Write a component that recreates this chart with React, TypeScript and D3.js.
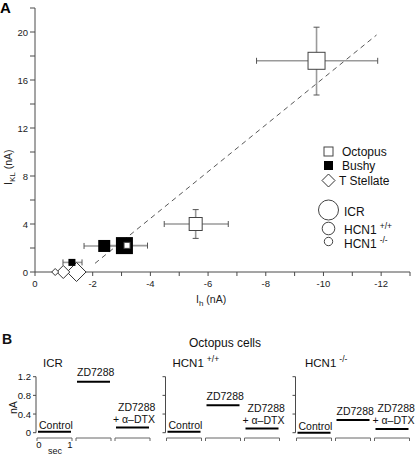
import React from 'react';
import * as d3 from 'd3';

// ---------- Panel A data ----------
const genotypes = ['ICR', 'HCN1 +/+', 'HCN1 -/-'];
const octopusX = [-9.76, -5.57, -3.19];
const octopusY = [17.6, 4.0, 2.22];
const octopusXLo = [-7.68, -4.48, NaN];
const octopusXHi = [-11.88, -6.7, NaN];
const octopusYLo = [14.75, 2.8, NaN];
const octopusYHi = [20.4, 5.2, NaN];

const bushyX = [-3.1, -2.4, -1.28];
const bushyY = [2.2, 2.17, 0.8];
const bushyXLo = [-2.3, -1.7, -0.97];
const bushyXHi = [-3.9, -3.1, -1.63];

const stellateX = [-1.44, -0.98, -0.7];
const stellateY = [0, 0, 0];

const fitX = [-2.08, -11.84];
const fitY = [0.72, 19.75];

const xTicksA = d3.range(0, -13.5, -1);
const yTicksA = d3.range(0, 22.5, 2);

// ---------- Panel B data ----------
const panelTitles = ['ICR', 'HCN1', 'HCN1'];
const panelSups = ['', '+/+', '-/-'];
const conditions = ['Control', 'ZD7288', 'ZD7288 + α–DTX'];
const icrValues = [0.02, 1.09, 0.11];
const wtValues = [0.02, 0.59, 0.09];
const koValues = [0.0, 0.27, 0.08];
const yTicksB = [0, 0.4, 0.8, 1.2];

const FONT = 'Liberation Sans, Arial, Helvetica, sans-serif';
const AX = '#4a4a4a';
const EB = '#9a9a9a';

const sizeSquare = [17, 13, 6];
const sizeBushy = [17, 12, 7];
const sizeDiamond = [9.5, 6.5, 3.5];

function PanelA() {
  const x = d3.scaleLinear().domain([0, -13]).range([35, 410]);
  const y = d3.scaleLinear().domain([0, 22]).range([272, 8]);
  const line = d3.line<number>().x((_, i) => x(fitX[i])).y((_, i) => y(fitY[i]));

  const cap = 3;
  const hBar = (x0: number, x1: number, yy: number, key: string) => (
    <g key={key}>
      <line x1={x(x0)} x2={x(x1)} y1={y(yy)} y2={y(yy)} stroke={EB} strokeWidth={1.6} />
      <line x1={x(x0)} x2={x(x0)} y1={y(yy) - cap} y2={y(yy) + cap} stroke="#555" strokeWidth={1} />
      <line x1={x(x1)} x2={x(x1)} y1={y(yy) - cap} y2={y(yy) + cap} stroke="#555" strokeWidth={1} />
    </g>
  );
  const vBar = (xx: number, y0: number, y1: number, key: string) => (
    <g key={key}>
      <line x1={x(xx)} x2={x(xx)} y1={y(y0)} y2={y(y1)} stroke={EB} strokeWidth={1.6} />
      <line x1={x(xx) - cap} x2={x(xx) + cap} y1={y(y0)} y2={y(y0)} stroke="#555" strokeWidth={1} />
      <line x1={x(xx) - cap} x2={x(xx) + cap} y1={y(y1)} y2={y(y1)} stroke="#555" strokeWidth={1} />
    </g>
  );
  const diamond = (cx: number, cy: number, h: number) =>
    `M${cx},${cy - h}L${cx + h},${cy}L${cx},${cy + h}L${cx - h},${cy}Z`;

  return (
    <g fontFamily={FONT}>
      <text x={0} y={13} fontSize={15} fontWeight="bold">A</text>
      {/* axes */}
      <line x1={x(0)} x2={x(-13)} y1={y(0)} y2={y(0)} stroke={AX} strokeWidth={1} />
      <line x1={x(0)} x2={x(0)} y1={y(0)} y2={y(22)} stroke={AX} strokeWidth={1} />
      {xTicksA.map((t) => (
        <g key={'xt' + t}>
          <line x1={x(t)} x2={x(t)} y1={y(0)} y2={y(0) + 4} stroke={AX} />
          {Math.round(t) % 2 === 0 && (
            <text x={x(t)} y={y(0) + 15} fontSize={9.5} textAnchor="middle" fill="#222">
              {t === 0 ? '0' : '-' + Math.abs(t)}
            </text>
          )}
        </g>
      ))}
      {yTicksA.map((t) => (
        <g key={'yt' + t}>
          <line x1={x(0) - 5} x2={x(0)} y1={y(t)} y2={y(t)} stroke={AX} />
          {t % 4 === 0 && (
            <text x={x(0) - 7} y={y(t) + 3.5} fontSize={9.5} textAnchor="end" fill="#222">
              {t}
            </text>
          )}
        </g>
      ))}
      {/* axis titles */}
      <text x={196} y={303} fontSize={10.5} fill="#222">
        I<tspan fontSize={8} dy={3}>h</tspan>
        <tspan dy={-3}> (nA)</tspan>
      </text>
      <text transform="translate(12,185) rotate(-90)" fontSize={10.5} fill="#222">
        I<tspan fontSize={8} dy={3}>KL</tspan>
        <tspan dy={-3}> (nA)</tspan>
      </text>

      {/* fit line */}
      <path d={line([0, 1]) || ''} stroke="#444" strokeWidth={0.9} strokeDasharray="5,4" fill="none" />

      {/* error bars */}
      {octopusX.map((v, i) =>
        isNaN(octopusXLo[i]) ? null : (
          <g key={'oe' + i}>
            {hBar(octopusXLo[i], octopusXHi[i], octopusY[i], 'oh' + i)}
            {vBar(v, octopusYLo[i], octopusYHi[i], 'ov' + i)}
          </g>
        )
      )}
      {bushyX.map((_, i) => hBar(bushyXLo[i], bushyXHi[i], bushyY[i], 'be' + i))}

      {/* T stellate diamonds */}
      {stellateX.map((v, i) => (
        <path key={'sd' + i} d={diamond(x(v), y(stellateY[i]), sizeDiamond[i])} fill="#fff" stroke="#333" strokeWidth={1} />
      ))}
      {/* bushy squares */}
      {bushyX.map((v, i) => (
        <rect key={'bs' + i} x={x(v) - sizeBushy[i] / 2} y={y(bushyY[i]) - sizeBushy[i] / 2} width={sizeBushy[i]} height={sizeBushy[i]} fill="#000" />
      ))}
      {/* octopus squares */}
      {octopusX.map((v, i) => (
        <rect key={'os' + i} x={x(v) - sizeSquare[i] / 2} y={y(octopusY[i]) - sizeSquare[i] / 2} width={sizeSquare[i]} height={sizeSquare[i]} fill="#fff" stroke="#444" strokeWidth={1} />
      ))}

      {/* legend */}
      <rect x={324} y={147} width={9} height={9} fill="#fff" stroke="#444" />
      <text x={342} y={156} fontSize={12} fill="#111">Octopus</text>
      <rect x={324} y={161} width={9} height={9} fill="#000" />
      <text x={342} y={170} fontSize={12} fill="#111">Bushy</text>
      <path d={diamond(328.5, 180.5, 6.5)} fill="#fff" stroke="#333" />
      <text x={339} y={185} fontSize={12} fill="#111">T Stellate</text>

      {[10, 6.3, 4.2].map((r, i) => (
        <circle key={'lc' + i} cx={328.5} cy={[210, 228.5, 241.5][i]} r={r} fill="#fff" stroke="#444" />
      ))}
      <text x={344} y={216} fontSize={12} fill="#111">{genotypes[0]}</text>
      <text x={344} y={234} fontSize={12} fill="#111">
        HCN1<tspan fontSize={8.5} dx={3} dy={-5}>+/+</tspan>
      </text>
      <text x={344} y={247.5} fontSize={12} fill="#111">
        HCN1<tspan fontSize={8.5} dx={3} dy={-5}>-/-</tspan>
      </text>
    </g>
  );
}

function PanelB() {
  const y = d3.scaleLinear().domain([0, 1.2]).range([432.7, 376.7]);
  const axisXs = [36, 165.5, 295.5];
  const offsets = [2, 41, 80];
  const tw = 33;
  const segY = 438;
  const values = [icrValues, wtValues, koValues];

  return (
    <g fontFamily={FONT} fill="#111">
      <text x={2} y={344} fontSize={14} fontWeight="bold">B</text>
      <text x={225} y={347} fontSize={12} textAnchor="middle">Octopus cells</text>
      <text transform="translate(17,414) rotate(-90)" fontSize={10.5}>nA</text>
      {axisXs.map((ax, p) => (
        <g key={'p' + p}>
          <text x={[43, 172.5, 305][p]} y={367} fontSize={11.5}>
            {panelTitles[p]}
            {panelSups[p] && (
              <tspan fontSize={8.5} dx={3} dy={-5}>{panelSups[p]}</tspan>
            )}
          </text>
          <line x1={ax} x2={ax} y1={y(0)} y2={y(1.2)} stroke={AX} />
          {yTicksB.map((t) => (
            <g key={'bt' + t}>
              <line x1={ax - 3} x2={ax} y1={y(t)} y2={y(t)} stroke={AX} />
              {p === 0 && (
                <text x={ax - 5} y={y(t) + 3.5} fontSize={9.5} textAnchor="end">
                  {t === 0 ? '0' : d3.format('.1f')(t)}
                </text>
              )}
            </g>
          ))}
          {conditions.map((c, k) => {
            const x0 = ax + offsets[k];
            const tx = d3.scaleLinear().domain([0, 1]).range([x0, x0 + tw]);
            const yy = y(values[p][k]);
            return (
              <g key={'c' + k}>
                <line x1={tx(0)} x2={tx(1)} y1={yy} y2={yy} stroke="#000" strokeWidth={2} />
                <line x1={tx(0) - 1} x2={tx(1) + 1} y1={segY} y2={segY} stroke="#666" strokeWidth={1} />
                <line x1={tx(0) - 1} x2={tx(0) - 1} y1={segY} y2={segY + 3} stroke="#666" />
                <line x1={tx(1) + 1} x2={tx(1) + 1} y1={segY} y2={segY + 3} stroke="#666" />
                {k === 0 && (
                  <text x={tx(0) + 1} y={yy - 3} fontSize={10.5}>Control</text>
                )}
                {k === 1 && (
                  <text x={tx(0)} y={yy - 5.5} fontSize={10.5}>ZD7288</text>
                )}
                {k === 2 && (
                  <g>
                    <text x={tx(0) + 2} y={yy - 16.5} fontSize={10.5}>ZD7288</text>
                    <text x={tx(0) - 3} y={yy - 4.5} fontSize={10.5}>+ α–DTX</text>
                  </g>
                )}
              </g>
            );
          })}
        </g>
      ))}
      <text x={39} y={448} fontSize={9.5} textAnchor="middle">0</text>
      <text x={70} y={448} fontSize={9.5} textAnchor="middle">1</text>
      <text x={55} y={454} fontSize={9} textAnchor="middle">sec</text>
    </g>
  );
}

export default function App() {
  return (
    <div style={{ position: 'absolute', left: 0, top: 0 }}>
      <svg width={417} height={456} style={{ display: 'block', background: '#fff' }}>
        <PanelA />
        <PanelB />
      </svg>
    </div>
  );
}
